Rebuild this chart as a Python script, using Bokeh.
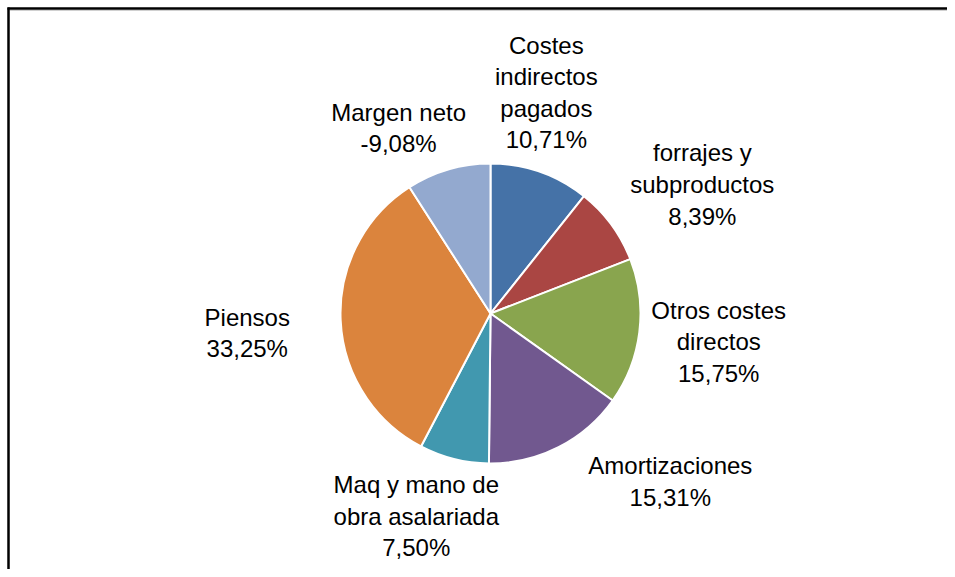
import math
from bokeh.plotting import figure
from bokeh.models import Range1d, ColumnDataSource
from bokeh.core.properties import value
from bokeh.embed import file_html
from bokeh.resources import INLINE

# ---- data ----
categories = ["Costes\nindirectos\npagados", "forrajes y\nsubproductos", "Otros costes\ndirectos",
              "Amortizaciones", "Maq y mano de\nobra asalariada", "Piensos", "Margen neto"]
values = [10.71, 8.39, 15.75, 15.31, 7.50, 33.25, -9.08]
colors = ["#4572A7", "#AA4643", "#89A54E", "#71588F", "#4198AF", "#DB843D", "#93A9CF"]

# ---- layout (label placement around the pie) ----
label_radius = [228, 248, 230, 246, 216, 244, 207]
label_nudge = [-5.1, 5.0, 0.0, -20.0, 6.0, -2.0, -10.0]   # degrees

W, H = 947, 569
cx, cy, R = 490, H - 313, 150

sizes = [abs(v) for v in values]
total = sum(sizes)
starts, ends, mids = [], [], []
acc = 0.0
for s in sizes:
    a0 = acc / total * 2 * math.pi
    acc += s
    a1 = acc / total * 2 * math.pi
    # clockwise from 12 o'clock -> bokeh anticlockwise angles
    starts.append(math.pi / 2 - a1)
    ends.append(math.pi / 2 - a0)
    mids.append((a0 + a1) / 2)

def fmt(v):
    return ("%.2f" % v).replace(".", ",") + "%"

labels = [c + "\n" + fmt(v) for c, v in zip(categories, values)]
lx, ly = [], []
for m, r, n in zip(mids, label_radius, label_nudge):
    t = m + math.radians(n)
    lx.append(cx + r * math.sin(t))
    ly.append(cy + r * math.cos(t))

src = ColumnDataSource(dict(start=starts, end=ends, color=colors,
                            x=[cx] * len(values), y=[cy] * len(values)))
lsrc = ColumnDataSource(dict(x=lx, y=ly, text=labels))

p = figure(width=W, height=H, output_backend="svg", toolbar_location=None,
           x_range=Range1d(0, W), y_range=Range1d(0, H), min_border=0,
           x_axis_type=None, y_axis_type=None)
p.grid.visible = False
p.outline_line_color = None
p.background_fill_color = "white"
p.border_fill_color = "white"

p.wedge(x="x", y="y", radius=R, start_angle="start", end_angle="end",
        direction="anticlock", fill_color="color", line_color="white",
        line_width=2, source=src)

p.text(x="x", y="y", text="text", source=lsrc, text_align="center",
       text_baseline="middle", text_font=value("Liberation Sans"),
       text_font_size="24px", text_color="black", text_line_height=1.17)

# chart frame (top and left edges visible)
p.line(x=[7, W], y=[H - 8, H - 8], line_color="black", line_width=2.5)
p.line(x=[9, W], y=[H - 10, H - 10], line_color="#d0d0d0", line_width=1)
p.line(x=[8, 8], y=[0, H - 7], line_color="black", line_width=2.5)

open("out.html", "w").write(file_html(p, INLINE))
